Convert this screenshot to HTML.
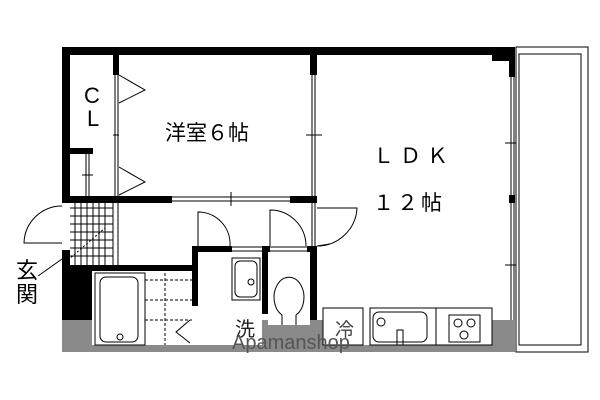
<!DOCTYPE html>
<html><head><meta charset="utf-8"><style>
html,body{margin:0;padding:0;background:#fff;width:600px;height:400px;overflow:hidden}
svg{display:block}
text{font-family:"Liberation Sans","Noto Sans CJK JP",sans-serif}
</style></head><body>
<svg width="600" height="400" viewBox="0 0 600 400" xmlns="http://www.w3.org/2000/svg">
<rect x="62" y="320" width="453" height="32" fill="#8a8a8a"/>
<g fill="#fff">
<rect x="92" y="300" width="170" height="45"/>
<rect x="268" y="300" width="42" height="25"/>
<rect x="323" y="308" width="169" height="37"/>
</g>
<g fill="#000">
<rect x="62" y="47" width="453" height="8"/>
<rect x="62" y="47" width="8" height="150"/>
<rect x="62" y="250" width="8" height="20"/>
<rect x="113" y="55" width="6" height="20"/>
<rect x="310" y="55" width="7" height="20"/>
<rect x="492" y="47" width="23" height="14"/>
<rect x="509" y="47" width="6" height="30"/>
<rect x="509" y="195" width="6" height="8"/>
<rect x="62" y="196" width="110" height="7"/>
<rect x="290" y="196" width="27" height="7"/>
<rect x="70" y="148" width="23" height="6"/>
<rect x="62" y="265" width="130" height="6"/>
<rect x="62" y="270" width="30" height="50"/>
<rect x="192" y="246" width="6" height="60"/>
<rect x="192" y="246" width="40" height="6"/>
<rect x="262" y="246" width="8" height="6"/>
<rect x="262" y="246" width="6" height="68"/>
<rect x="307" y="246" width="10" height="6"/>
<rect x="310" y="246" width="7" height="74"/>
</g>
<g fill="none" stroke="#000" stroke-width="1">
<line x1="115" y1="75" x2="115" y2="196"/><line x1="118" y1="75" x2="118" y2="196"/>
<line x1="113" y1="135" x2="119" y2="135"/>
<polyline points="119,75 145,90 119,103"/>
<polyline points="119,167 145,182 119,195"/>
<line x1="312" y1="75" x2="312" y2="196"/><line x1="315" y1="75" x2="315" y2="196"/>
<line x1="306" y1="135" x2="322" y2="135"/>
<line x1="172" y1="197" x2="290" y2="197"/><line x1="172" y1="201" x2="290" y2="201"/>
<line x1="231" y1="192" x2="231" y2="206"/>
<line x1="86" y1="154" x2="86" y2="196"/><line x1="89" y1="154" x2="89" y2="196"/>
<line x1="82" y1="175" x2="93" y2="175"/>
<line x1="511" y1="77" x2="511" y2="320"/><line x1="514" y1="77" x2="514" y2="320"/>
<line x1="505" y1="143" x2="520" y2="143"/><line x1="505" y1="265" x2="520" y2="265"/>
<rect x="516" y="47" width="72" height="305" fill="#fff"/>
<rect x="519" y="54" width="62" height="291"/>
<line x1="312" y1="203" x2="312" y2="246"/><line x1="315" y1="203" x2="315" y2="246"/>
<path d="M317,246 A40,40 0 0 0 357,208 L317,208"/>
<path d="M62,243 L24,243 A38,38 0 0 1 62,206"/>
<line x1="113" y1="203" x2="113" y2="265"/><line x1="118" y1="203" x2="118" y2="265"/>
<path d="M198,246 L198,212 A32,32 0 0 1 230,246"/>
<path d="M270,246 L270,210 A36,36 0 0 1 306,246"/>
<line x1="232" y1="247" x2="262" y2="247"/><line x1="232" y1="251" x2="262" y2="251"/>
<line x1="270" y1="247" x2="307" y2="247"/><line x1="270" y1="251" x2="307" y2="251"/>
<line x1="68" y1="260" x2="105" y2="228" stroke-dasharray="2,2"/>
<line x1="38" y1="276" x2="62" y2="259"/>
<line x1="317" y1="246" x2="330" y2="244"/>
<rect x="95" y="273" width="50" height="72"/>
<rect x="100" y="277" width="38" height="65" rx="6"/>
<circle cx="120" cy="337" r="3"/>
<polyline points="190,320 176,332 190,343"/>
<rect x="232" y="258" width="28" height="42"/>
<rect x="235" y="261" width="22" height="36" rx="5"/>
<circle cx="251" cy="282" r="3"/>
<path d="M282,325 L282,315 A15,20 0 1 1 296,315 L296,325"/>
<rect x="323" y="308" width="40" height="37"/>
<rect x="370" y="308" width="66" height="37"/>
<rect x="373" y="312" width="54" height="30" rx="6"/>
<circle cx="381" cy="322" r="4"/>
<rect x="397" y="330" width="6" height="15"/>
<rect x="436" y="308" width="56" height="37"/>
<rect x="449" y="315" width="31" height="27"/>
<circle cx="458" cy="323" r="4"/><circle cx="471" cy="323" r="4"/><circle cx="464" cy="335" r="4"/>
</g>
<g stroke="#000" stroke-width="1">
<path d="M70,208H113M70,216H113M70,224H113M70,232H113M70,240H113M70,248H113M70,256H113M75,203V265M81,203V265M87,203V265M93,203V265M99,203V265M105,203V265"/>
<path d="M145,280H192M145,300H192M145,320H192M165,273V345" stroke-dasharray="3,2"/>
</g>
<text x="84" y="103" font-size="22">C</text>
<text x="87" y="126" font-size="22">L</text>
<text x="165" y="140" font-size="21">洋室６帖</text>
<text x="373" y="163" font-size="21" letter-spacing="6">ＬＤＫ</text>
<text x="373" y="210" font-size="21" letter-spacing="3">１２帖</text>
<text x="16" y="278" font-size="22">玄</text>
<text x="16" y="302" font-size="22">関</text>
<text x="235" y="336" font-size="20" fill="#222">洗</text>
<text x="335" y="336" font-size="19" fill="#444">冷</text>
<text x="232" y="349" font-size="20" fill="#555">Apamanshop</text>
</svg>
</body></html>
